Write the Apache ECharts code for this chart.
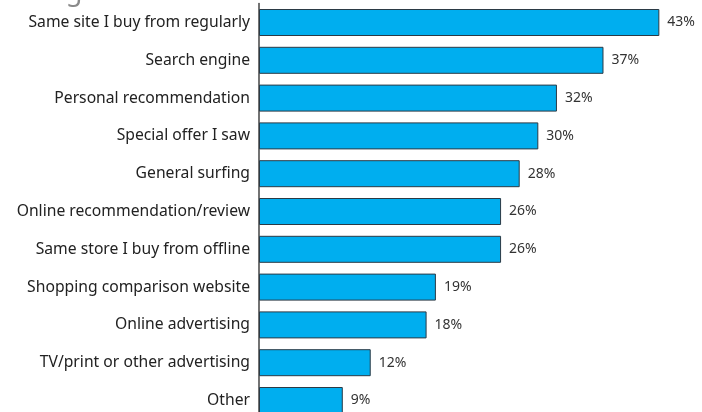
<!DOCTYPE html>
<html>
<head>
<meta charset="utf-8">
<script src="https://cdn.jsdelivr.net/npm/echarts@6/dist/echarts.min.js"></script>
<style>
html,body{margin:0;padding:0;background:#fff;}
#chart{width:702px;height:412px;}
</style>
</head>
<body>
<div id="chart"></div>
<script>
const categories = [
  "Same site I buy from regularly",
  "Search engine",
  "Personal recommendation",
  "Special offer I saw",
  "General surfing",
  "Online recommendation/review",
  "Same store I buy from offline",
  "Shopping comparison website",
  "Online advertising",
  "TV/print or other advertising",
  "Other"
];
const values = [43, 37, 32, 30, 28, 26, 26, 19, 18, 12, 9];
const titleText = "Usage";

const chart = echarts.init(document.getElementById('chart'), null, {renderer: 'canvas'});
chart.setOption({
  animation: false,
  backgroundColor: '#fff',
  title: {
    text: titleText,
    left: 18,
    top: -21,
    padding: 0,
    textStyle: {fontFamily: 'Noto Sans', fontSize: 27, fontWeight: 'normal', color: '#8a8a8a'}
  },
  grid: {left: 259, width: 437.6, top: 3.6, height: 415.8, containLabel: false, outerBoundsMode: 'none'},
  xAxis: {
    type: 'value', min: 0, max: 47, show: false
  },
  yAxis: {
    type: 'category',
    data: categories,
    inverse: true,
    axisLine: {show: true, lineStyle: {color: '#444', width: 1.5}},
    axisTick: {show: false},
    axisLabel: {margin: 9, fontFamily: 'Noto Sans', fontSize: 15.7, color: '#222'}
  },
  series: [{
    type: 'bar',
    data: values,
    barWidth: 27,
    itemStyle: {color: '#00aeef', borderColor: '#2b3a45', borderWidth: 1},
    label: {
      show: true, position: 'right', distance: 8,
      formatter: p => p.value + '%',
      fontFamily: 'Noto Sans', fontSize: 14, color: '#333'
    }
  }]
});
</script>
</body>
</html>
